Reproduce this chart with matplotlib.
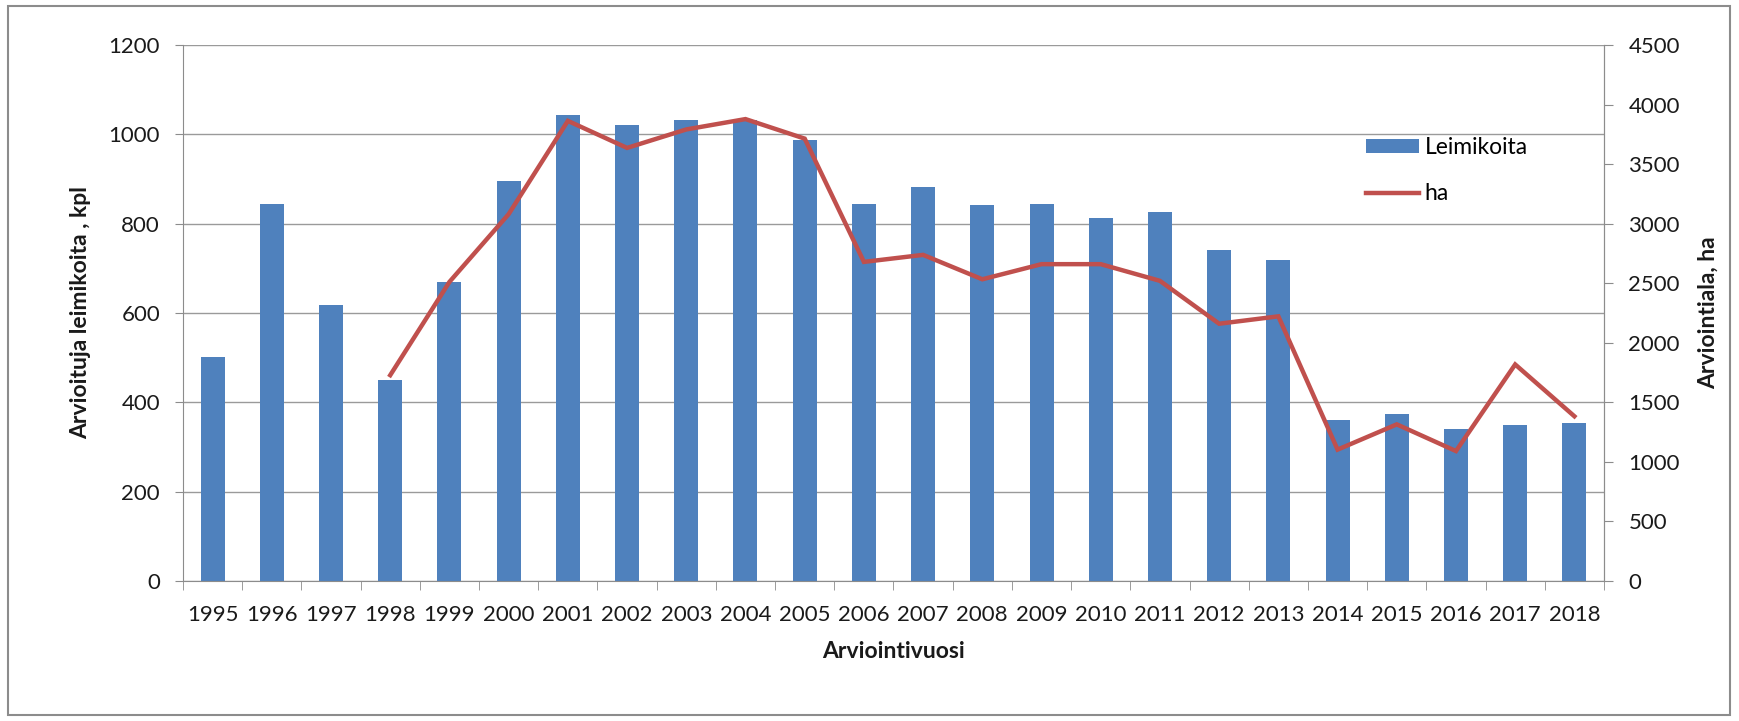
import matplotlib
matplotlib.use("Agg")
import matplotlib.pyplot as plt
from matplotlib.patches import Rectangle
import numpy as np

years = ["1995", "1996", "1997", "1998", "1999", "2000", "2001", "2002", "2003", "2004",
         "2005", "2006", "2007", "2008", "2009", "2010", "2011", "2012", "2013", "2014",
         "2015", "2016", "2017", "2018"]
leimikoita = [501, 844, 617, 451, 670, 895, 1043, 1021, 1033, 1031,
              988, 844, 881, 841, 844, 813, 825, 740, 718, 361,
              375, 341, 350, 353]
ha_years = ["1998", "1999", "2000", "2001", "2002", "2003", "2004", "2005", "2006", "2007",
            "2008", "2009", "2010", "2011", "2012", "2013", "2014", "2015", "2016", "2017", "2018"]
ha = [1728, 2511, 3080, 3863, 3636, 3791, 3878, 3714, 2679, 2738,
      2533, 2660, 2660, 2520, 2160, 2222, 1103, 1315, 1091, 1818, 1383]

plt.rcParams['font.family'] = ['Lato', 'DejaVu Sans']
BLUE = "#4F81BD"
RED = "#C0504D"
GREY = "#8c8c8c"
TXT = "#1a1a1a"
TICKFS = 16
LABFS = 16.5

W, H = 1739, 721
fig = plt.figure(figsize=(W / 100, H / 100), dpi=100)
L, R, T, B = 183, 1604, 45, 581
ax = fig.add_axes([L / W, 1 - B / H, (R - L) / W, (B - T) / H])
x = np.arange(len(years))
ax.bar(x, leimikoita, width=0.405, color=BLUE, zorder=2, label="Leimikoita")
ax.set_ylim(0, 1200)
ax.set_yticks(np.arange(0, 1201, 200))
ax.set_xlim(-0.5, len(years) - 0.5)
ax.set_xticks(x)
ax.set_xticklabels(years)
ax.set_xticks(np.arange(-0.5, len(years), 1.0), minor=True)
ax.tick_params(axis='x', which='major', length=0, labelsize=TICKFS, pad=17, labelcolor=TXT)
ax.tick_params(axis='x', which='minor', length=6.5, color=GREY, direction='out')
ax.tick_params(axis='y', length=5.5, color=GREY, labelsize=TICKFS, direction='out', pad=11,
               labelcolor=TXT)
ax.grid(axis='y', color="#9a9a9a", linewidth=1.0, zorder=0)
ax.set_axisbelow(True)
for s in ['left', 'bottom', 'right']:
    ax.spines[s].set_color(GREY)
ax.spines['top'].set_visible(False)
ax.set_ylabel("Arvioituja leimikoita , kpl", fontsize=LABFS, fontweight='bold', va='center',
              color=TXT)
ax.yaxis.set_label_coords((81 - L) / (R - L), 0.5)
ax.set_xlabel("Arviointivuosi", fontsize=LABFS, fontweight='bold', va='center', color=TXT)
ax.xaxis.set_label_coords(0.5, (B - 652) / (B - T))

ax2 = ax.twinx()
hx = [years.index(y) for y in ha_years]
ax2.plot(hx, ha, color=RED, linewidth=3.2, label="ha", zorder=3, solid_joinstyle='miter')
ax2.set_ylim(0, 4500)
ax2.set_yticks(np.arange(0, 4501, 500))
ax2.tick_params(axis='y', length=6.5, color=GREY, labelsize=TICKFS, direction='out', pad=11,
                labelcolor=TXT)
for s in ['left', 'bottom', 'top']:
    ax2.spines[s].set_visible(False)
ax2.spines['right'].set_color(GREY)
ax2.set_ylabel("Arviointiala, ha", fontsize=LABFS, fontweight='bold', va='center', color=TXT)
ax2.yaxis.set_label_coords((1708 - L) / (R - L), 0.5)

h1, l1 = ax.get_legend_handles_labels()
h2, l2 = ax2.get_legend_handles_labels()
ax2.legend(h1 + h2, l1 + l2, loc='upper left',
           bbox_to_anchor=((1366 - L) / (R - L), (B - 137) / (B - T)),
           frameon=False, fontsize=16.5, handlelength=2.3, handleheight=0.6,
           handletextpad=0.25, labelspacing=1.1, borderpad=0, borderaxespad=0)

fig.patches.append(Rectangle((8 / W, 6 / H), 1722 / W, 709 / H,
                             transform=fig.transFigure, fill=False,
                             edgecolor="#8c8c8c", linewidth=1.5))

fig.savefig("out.png", dpi=100, facecolor="white")
